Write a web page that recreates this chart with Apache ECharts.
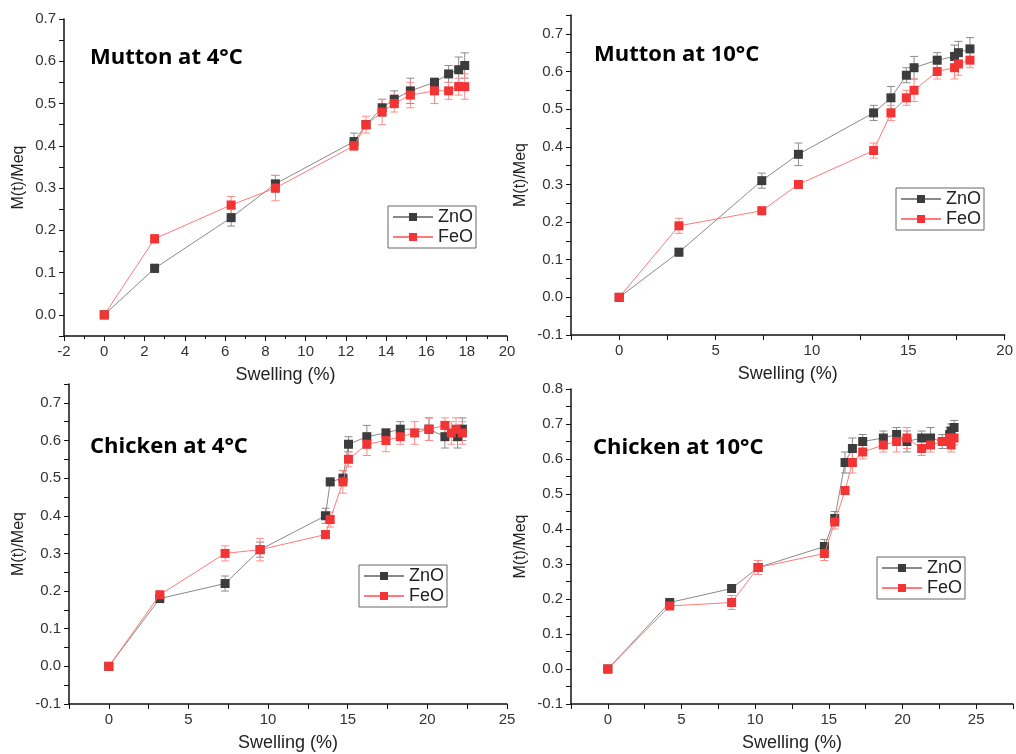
<!doctype html>
<html lang="en">
<head>
    <meta charset="utf-8">
    <title>M(t)/Meq vs Swelling</title>
    <script src="https://cdn.jsdelivr.net/npm/echarts@6/dist/echarts.min.js"></script>
    <style>
        body { margin: 0; background: #fff; }
        #main { width: 1016px; height: 754px; }
    </style>
</head>
<body>
    <div id="main"></div>
    <script>
        // Mutton at 4°C
        var m4X      = [0, 2.5, 6.3, 8.5, 12.4, 13.0, 13.8, 14.4, 15.2, 16.4, 17.1, 17.6, 17.9];
        var m4Zn     = [0, 0.11, 0.23, 0.31, 0.41, 0.45, 0.49, 0.51, 0.53, 0.55, 0.57, 0.58, 0.59];
        var m4ZnErr  = [0, 0.01, 0.02, 0.02, 0.02, 0.01, 0.02, 0.02, 0.03, 0.01, 0.02, 0.03, 0.03];
        var m4Fe     = [0, 0.18, 0.26, 0.30, 0.40, 0.45, 0.48, 0.50, 0.52, 0.53, 0.53, 0.54, 0.54];
        var m4FeErr  = [0, 0.01, 0.02, 0.03, 0.01, 0.02, 0.03, 0.02, 0.03, 0.03, 0.02, 0.02, 0.03];

        // Mutton at 10°C
        var m10X     = [0, 3.1, 7.4, 9.3, 13.2, 14.1, 14.9, 15.3, 16.5, 17.4, 17.6, 18.2];
        var m10Zn    = [0, 0.12, 0.31, 0.38, 0.49, 0.53, 0.59, 0.61, 0.63, 0.64, 0.65, 0.66];
        var m10ZnErr = [0, 0.01, 0.02, 0.03, 0.02, 0.03, 0.02, 0.03, 0.02, 0.03, 0.03, 0.03];
        var m10Fe    = [0, 0.19, 0.23, 0.30, 0.39, 0.49, 0.53, 0.55, 0.60, 0.61, 0.62, 0.63];
        var m10FeErr = [0, 0.02, 0.01, 0.01, 0.02, 0.02, 0.02, 0.03, 0.02, 0.03, 0.03, 0.02];

        // Chicken at 4°C
        var c4XZn    = [0, 3.2, 7.3, 9.5, 13.6, 13.9, 14.7, 15.05, 16.2, 17.4, 18.3, 20.1, 21.1, 21.9, 22.2];
        var c4Zn     = [0, 0.18, 0.22, 0.31, 0.40, 0.49, 0.50, 0.59, 0.61, 0.62, 0.63, 0.63, 0.61, 0.61, 0.63];
        var c4ZnErr  = [0, 0.005, 0.02, 0.02, 0.02, 0.01, 0.02, 0.02, 0.03, 0.01, 0.02, 0.03, 0.03, 0.03, 0.03];
        var c4XFe    = [0, 3.2, 7.3, 9.5, 13.6, 13.9, 14.7, 15.05, 16.2, 17.4, 18.3, 19.2, 20.1, 21.1, 21.5, 21.8, 22.2];
        var c4Fe     = [0, 0.19, 0.30, 0.31, 0.35, 0.39, 0.49, 0.55, 0.59, 0.60, 0.61, 0.62, 0.63, 0.64, 0.62, 0.63, 0.62];
        var c4FeErr  = [0, 0.01, 0.02, 0.03, 0.01, 0.02, 0.03, 0.02, 0.03, 0.03, 0.02, 0.03, 0.03, 0.02, 0.03, 0.03, 0.03];

        // Chicken at 10°C
        var c10X     = [0, 4.2, 8.4, 10.2, 14.7, 15.4, 16.1, 16.6, 17.3, 18.7, 19.6, 20.3, 21.3, 21.9, 22.7, 23.2, 23.3, 23.5];
        var c10Zn    = [0, 0.19, 0.23, 0.29, 0.35, 0.43, 0.59, 0.63, 0.65, 0.66, 0.67, 0.65, 0.66, 0.66, 0.65, 0.67, 0.68, 0.69];
        var c10ZnErr = [0, 0.005, 0.01, 0.02, 0.02, 0.02, 0.03, 0.03, 0.02, 0.02, 0.02, 0.03, 0.02, 0.03, 0.02, 0.02, 0.02, 0.02];
        var c10Fe    = [0, 0.18, 0.19, 0.29, 0.33, 0.42, 0.51, 0.59, 0.62, 0.64, 0.65, 0.66, 0.63, 0.64, 0.65, 0.66, 0.64, 0.66];
        var c10FeErr = [0, 0.005, 0.02, 0.02, 0.02, 0.02, 0.01, 0.03, 0.02, 0.02, 0.03, 0.03, 0.02, 0.02, 0.01, 0.02, 0.02, 0.02];

        var titles = ['Mutton at 4°C', 'Mutton at 10°C', 'Chicken at 4°C', 'Chicken at 10°C'];

        var ZN_MARK = '#3c3c3c', ZN_LINE = '#8a8a8a', ZN_ERR = '#8c8c8c';
        var FE_MARK = '#f23434', FE_LINE = '#ff7a7a', FE_ERR = '#ff8c8c';
        var FONT = 'Liberation Sans';

        function pairs(xs, ys) {
            return xs.map(function (x, i) { return [x, ys[i]]; });
        }
        function bars(xs, ys, es) {
            var out = [];
            for (var i = 0; i < xs.length; i++) {
                if (es[i] > 0) out.push([xs[i], ys[i] - es[i], ys[i] + es[i]]);
            }
            return out;
        }

        // vertical error bar with small caps
        function errRender(color) {
            return function (params, api) {
                var x = api.value(0);
                var lo = api.coord([x, api.value(1)]);
                var hi = api.coord([x, api.value(2)]);
                var w = 4;
                var st = { stroke: color, lineWidth: 1 };
                return {
                    type: 'group',
                    children: [
                        { type: 'line', shape: { x1: lo[0], y1: lo[1], x2: hi[0], y2: hi[1] }, style: st },
                        { type: 'line', shape: { x1: lo[0] - w, y1: lo[1], x2: lo[0] + w, y2: lo[1] }, style: st },
                        { type: 'line', shape: { x1: hi[0] - w, y1: hi[1], x2: hi[0] + w, y2: hi[1] }, style: st }
                    ]
                };
            };
        }

        var grids = [
            { left: 64, top: 19, width: 443, height: 317 },
            { left: 571, top: 15, width: 437, height: 320 },
            { left: 69, top: 384, width: 438, height: 320 },
            { left: 571, top: 389, width: 444, height: 315 }
        ];

        function tenths(v) {
            var r = Math.round(v * 10);
            return Math.abs(v * 10 - r) < 1e-6 ? (r / 10).toFixed(1) : '';
        }
        function fives(v) {
            return Math.abs(v / 5 - Math.round(v / 5)) < 1e-6 ? String(Math.round(v)) : '';
        }

        var axisLineStyle = { color: '#111', width: 1.5 };

        function xAxis(i, min, max, interval, fmt, minor) {
            return {
                type: 'value', gridIndex: i, min: min, max: max, interval: interval,
                axisLine: { onZero: false, lineStyle: axisLineStyle },
                axisTick: { length: 5, lineStyle: { color: '#111', width: 1 } },
                minorTick: { show: !!minor, splitNumber: 2, length: 3, lineStyle: { color: '#111' } },
                splitLine: { show: false },
                axisLabel: { fontSize: 15, color: '#333', fontFamily: FONT, margin: 8, formatter: fmt },
                name: 'Swelling (%)', nameLocation: 'middle', nameGap: 30,
                nameTextStyle: { fontSize: 18, color: '#222', fontFamily: FONT }
            };
        }
        function yAxis(i, min, max, gap) {
            return {
                type: 'value', gridIndex: i, min: min, max: max, interval: 0.05,
                axisLine: { onZero: false, lineStyle: axisLineStyle },
                axisTick: { length: 5, lineStyle: { color: '#111', width: 1 } },
                splitLine: { show: false },
                axisLabel: { fontSize: 15, color: '#333', fontFamily: FONT, margin: 8, formatter: tenths },
                name: 'M(t)/Meq', nameLocation: 'middle', nameGap: gap,
                nameTextStyle: { fontSize: 16, color: '#222', fontFamily: FONT }
            };
        }

        var xAxes = [
            xAxis(0, -2, 20, 2, null, true),
            xAxis(1, -2.5, 20, 2.5, fives),
            xAxis(2, -2.5, 25, 2.5, fives),
            xAxis(3, -2.5, 27.5, 2.5, fives)
        ];
        var yAxes = [
            yAxis(0, -0.05, 0.7, 37),
            yAxis(1, -0.1, 0.75, 42),
            yAxis(2, -0.1, 0.75, 42),
            yAxis(3, -0.1, 0.8, 42)
        ];

        var panels = [
            { zn: pairs(m4X, m4Zn), znE: bars(m4X, m4Zn, m4ZnErr), fe: pairs(m4X, m4Fe), feE: bars(m4X, m4Fe, m4FeErr) },
            { zn: pairs(m10X, m10Zn), znE: bars(m10X, m10Zn, m10ZnErr), fe: pairs(m10X, m10Fe), feE: bars(m10X, m10Fe, m10FeErr) },
            { zn: pairs(c4XZn, c4Zn), znE: bars(c4XZn, c4Zn, c4ZnErr), fe: pairs(c4XFe, c4Fe), feE: bars(c4XFe, c4Fe, c4FeErr) },
            { zn: pairs(c10X, c10Zn), znE: bars(c10X, c10Zn, c10ZnErr), fe: pairs(c10X, c10Fe), feE: bars(c10X, c10Fe, c10FeErr) }
        ];

        var series = [];
        panels.forEach(function (p, i) {
            series.push({
                type: 'custom', xAxisIndex: i, yAxisIndex: i, z: 1, silent: true,
                renderItem: errRender(ZN_ERR), encode: { x: 0, y: [1, 2] }, data: p.znE
            });
            series.push({
                type: 'custom', xAxisIndex: i, yAxisIndex: i, z: 1, silent: true,
                renderItem: errRender(FE_ERR), encode: { x: 0, y: [1, 2] }, data: p.feE
            });
            series.push({
                name: 'ZnO', type: 'line', xAxisIndex: i, yAxisIndex: i, z: 3,
                symbol: 'rect', symbolSize: 9, animation: false,
                lineStyle: { color: ZN_LINE, width: 1 },
                itemStyle: { color: ZN_MARK },
                data: p.zn
            });
            series.push({
                name: 'FeO', type: 'line', xAxisIndex: i, yAxisIndex: i, z: 4,
                symbol: 'rect', symbolSize: 9, animation: false,
                lineStyle: { color: FE_LINE, width: 1 },
                itemStyle: { color: FE_MARK },
                data: p.fe
            });
        });

        var legendPos = [
            { left: 388, top: 206 },
            { left: 896, top: 188 },
            { left: 359, top: 565 },
            { left: 877, top: 557 }
        ];
        var legends = legendPos.map(function (pos) {
            return {
                left: pos.left, top: pos.top, orient: 'vertical',
                data: ['ZnO', 'FeO'], selectedMode: false,
                borderColor: '#666', borderWidth: 1, padding: [2, 3, 2, 4],
                itemWidth: 40, itemHeight: 10, itemGap: 2,
                textStyle: { fontSize: 18, color: '#222', fontFamily: FONT }
            };
        });

        var titlePos = [[90, 47], [594, 44], [90, 436], [593, 437]];
        var titleOpts = titles.map(function (t, i) {
            return {
                text: t, left: titlePos[i][0], top: titlePos[i][1], padding: 0,
                textStyle: { fontFamily: 'Open Sans', fontWeight: 'bold', fontSize: 22, color: '#000' }
            };
        });

        var myChart = echarts.init(document.getElementById('main'));
        myChart.setOption({
            animation: false,
            backgroundColor: '#fff',
            title: titleOpts,
            legend: legends,
            grid: grids,
            xAxis: xAxes,
            yAxis: yAxes,
            series: series
        });
    </script>
</body>
</html>
